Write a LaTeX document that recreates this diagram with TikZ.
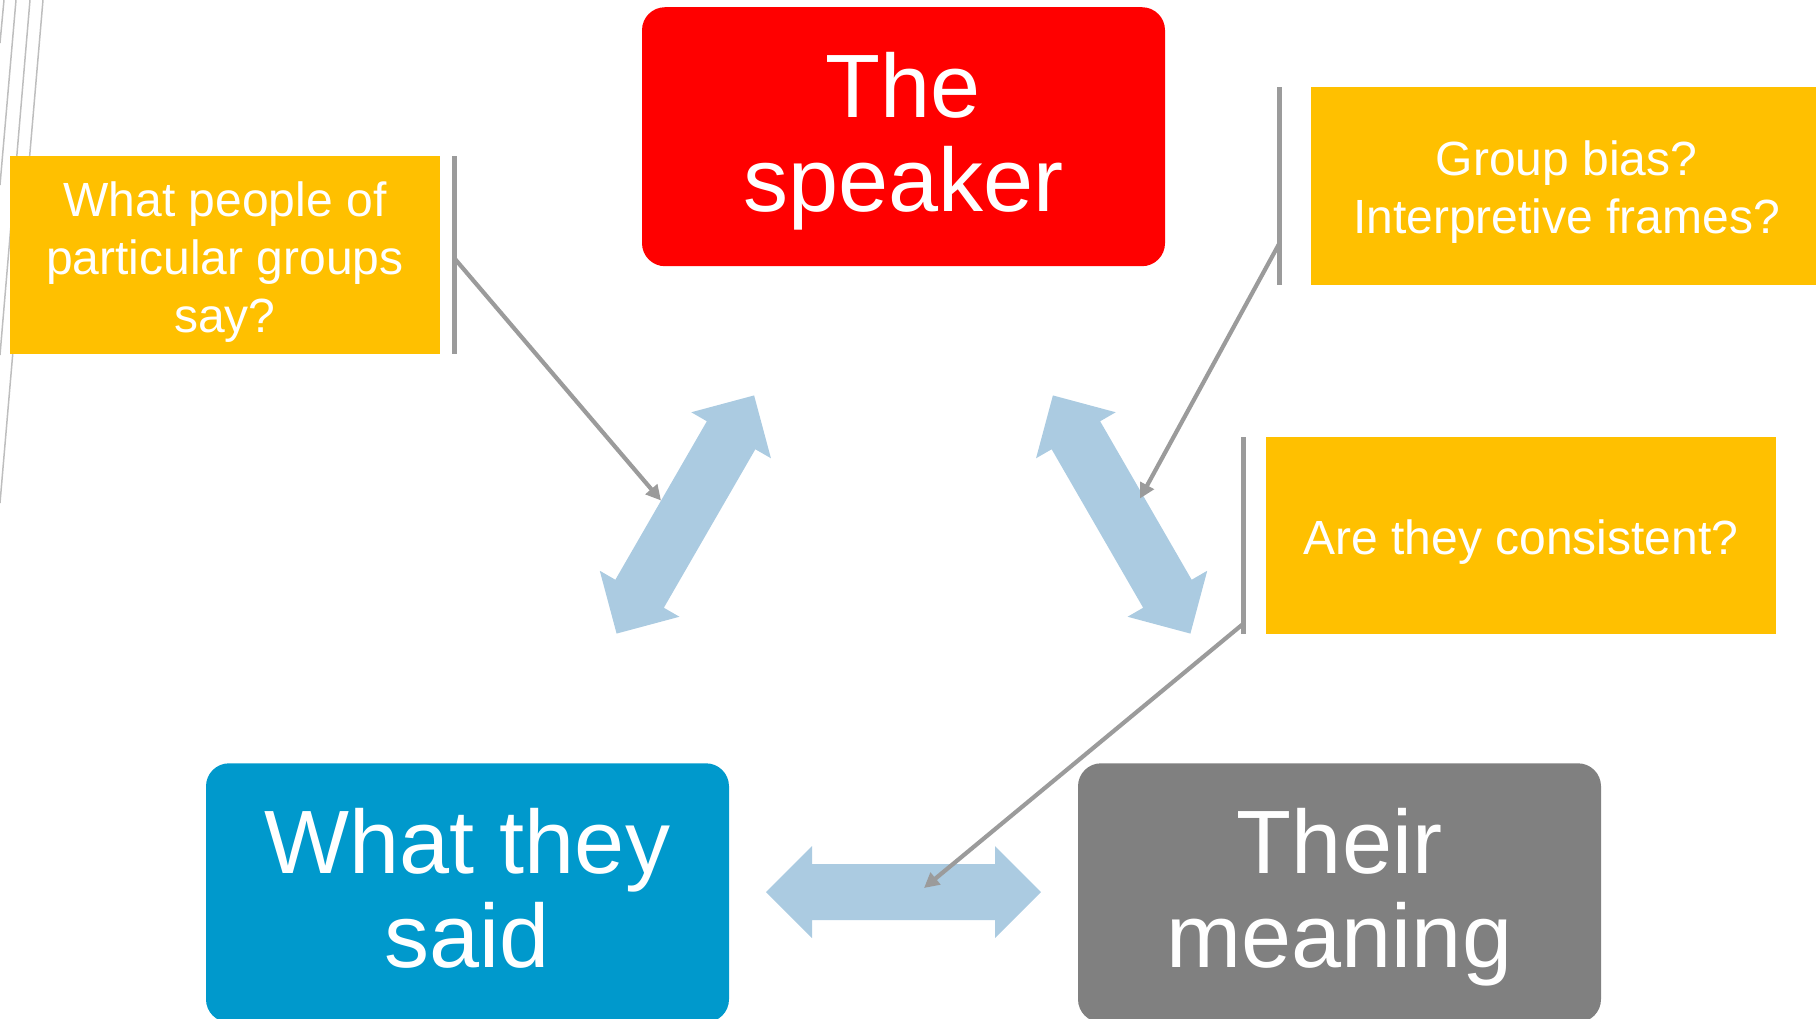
\documentclass[tikz,border=0pt]{standalone}
\usepackage{fontspec}
\setmainfont{Liberation Sans}
\usetikzlibrary{arrows.meta}
\definecolor{spkred}{RGB}{255,0,0}
\definecolor{saidblue}{RGB}{0,153,204}
\definecolor{meangrey}{RGB}{128,128,128}
\definecolor{qyellow}{RGB}{255,192,0}
\definecolor{arrowblue}{RGB}{171,203,225}
\definecolor{linegrey}{RGB}{155,155,155}
\definecolor{decogrey}{RGB}{190,190,190}
\newcommand\mytop[1]{\rule{0pt}{#1}}
\newcommand\mybot[1]{\rule[-#1]{0pt}{#1}}
\begin{document}
\begin{tikzpicture}[x=1pt,y=-1pt,
  bigbox/.style={rounded corners=23pt, inner sep=0pt, minimum width=523pt,
    minimum height=259pt, text=white, align=center,
    font=\fontsize{90}{94}\selectfont},
  qbox/.style={fill=qyellow, inner sep=0pt, minimum height=198pt,
    text=white, align=center, font=\fontsize{48}{58}\selectfont},
  accentbar/.style={fill=linegrey, inner sep=0pt, minimum width=5pt},
  pointer/.style={draw=linegrey, line width=4.2pt,
    -{Triangle[length=15pt,width=15pt]}},
  deco/.style={draw=decogrey, line width=1.5pt},
  dblarrow/.pic={\fill[arrowblue] (-137.5,0) -- (-91.5,-46) -- (-91.5,-28)
     -- (91.5,-28) -- (91.5,-46) -- (137.5,0) -- (91.5,46) -- (91.5,28)
     -- (-91.5,28) -- (-91.5,46) -- cycle;}
]
\useasboundingbox (0,0) rectangle (1816,1018);

% decorative lines
\draw[deco] (4,0) -- (0,43);
\draw[deco] (16,0) -- (0,185);
\draw[deco] (30,0) -- (0,355);
\draw[deco] (43,0) -- (0,503);

% main boxes
\node[bigbox, fill=spkred] (speaker) at (903.5,136.7)
  {\mytop{75pt}The\\speaker\mybot{20pt}};
\node[bigbox, fill=saidblue] (said) at (467.5,892.8)
  {\mytop{75pt}What they\\said\mybot{20pt}};
\node[bigbox, fill=meangrey] (meaning) at (1339.5,892.8)
  {\mytop{75pt}Their\\meaning\mybot{20pt}};

% block double arrows
\pic[rotate=60] at (685.35,514.5) {dblarrow};
\pic[rotate=-60] at (1121.65,514.5) {dblarrow};
\pic at (903.5,892) {dblarrow};

% callouts
\node[qbox, minimum width=430pt] (q1) at (225,255)
  {\mytop{50pt}What people of\\particular groups\\say?\mybot{12pt}};
\node[qbox, minimum width=511pt] (q2) at (1566.5,185.7)
  {\mytop{50pt}Group bias?\\Interpretive frames?\mybot{12pt}};
\node[qbox, minimum width=510pt, minimum height=197pt] (q3) at (1521,535)
  {\mytop{50pt}Are they consistent?\mybot{12pt}};

\node[accentbar, minimum height=198pt] (bar1) at (454.5,255) {};
\node[accentbar, minimum height=198pt] (bar2) at (1279,185.7) {};
\node[accentbar, minimum height=197pt] (bar3) at (1243.7,535) {};

% pointer lines
\coordinate (p1s) at (455,259);
\coordinate (p1e) at (661,500.5);
\coordinate (p2s) at (1279,244);
\coordinate (p2e) at (1140,498.5);
\coordinate (p3s) at (1243,624);
\coordinate (p3e) at (924,888);
\draw[pointer] (p1s) -- (p1e);
\draw[pointer] (p2s) -- (p2e);
\draw[pointer] (p3s) -- (p3e);
\end{tikzpicture}
\end{document}
